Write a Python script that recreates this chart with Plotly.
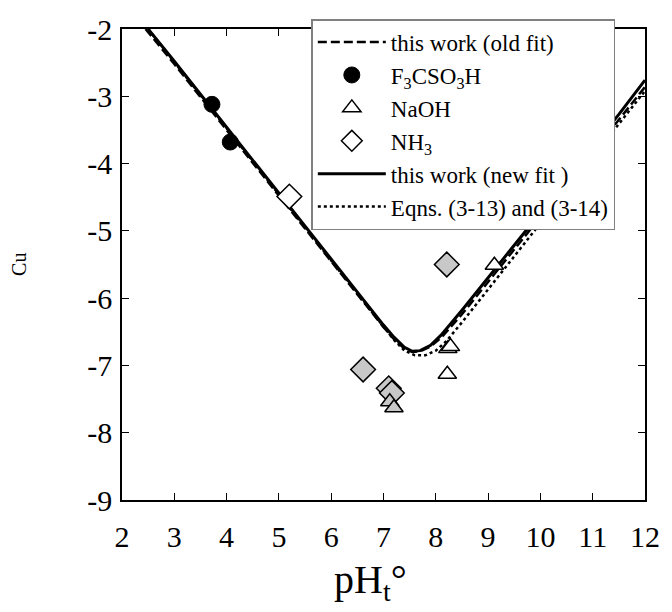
import plotly.graph_objects as go

# --- data ---
new_fit_x = [2.5, 3.0, 4.0, 5.0, 6.0, 6.6, 7.0, 7.2, 7.4, 7.55, 7.7, 7.9, 8.1, 8.5, 9.0, 9.5, 10.0, 10.5, 11.0, 11.5, 12.0]
new_fit_y = [-2.0, -2.48, -3.46, -4.44, -5.42, -6.01, -6.40, -6.58, -6.73, -6.79, -6.78, -6.70, -6.55, -6.18, -5.70, -5.21, -4.73, -4.24, -3.76, -3.27, -2.76]

old_fit_x = [2.45, 3.0, 4.0, 5.0, 6.0, 6.6, 7.0, 7.2, 7.4, 7.55, 7.7, 7.9, 8.1, 8.5, 9.0, 9.5, 10.0, 10.5, 11.0, 11.5, 12.0]
old_fit_y = [-2.0, -2.52, -3.50, -4.48, -5.46, -6.04, -6.43, -6.61, -6.75, -6.80, -6.79, -6.72, -6.59, -6.24, -5.76, -5.28, -4.80, -4.32, -3.83, -3.35, -2.86]

eqn_x = [2.5, 3.0, 4.0, 5.0, 6.0, 6.6, 7.0, 7.2, 7.4, 7.6, 7.8, 8.0, 8.2, 8.5, 9.0, 9.5, 10.0, 10.5, 11.0, 11.5, 12.0]
eqn_y = [-2.0, -2.49, -3.47, -4.45, -5.43, -6.02, -6.42, -6.62, -6.78, -6.85, -6.85, -6.78, -6.64, -6.36, -5.87, -5.38, -4.89, -4.40, -3.91, -3.41, -2.92]

f3cso3h_x = [3.72, 4.07]
f3cso3h_y = [-3.12, -3.68]

naoh_open_x = [8.23, 8.28, 8.22, 9.12]
naoh_open_y = [-6.75, -6.72, -7.13, -5.51]
naoh_gray_x = [7.12, 7.2]
naoh_gray_y = [-7.54, -7.63]

nh3_open_x = [5.2]
nh3_open_y = [-4.49]
nh3_gray_x = [6.61, 7.1, 7.16, 8.21]
nh3_gray_y = [-7.06, -7.34, -7.41, -5.50]

x_ticks = [2, 3, 4, 5, 6, 7, 8, 9, 10, 11, 12]
y_ticks = [-9, -8, -7, -6, -5, -4, -3, -2]

x_title = "pH<sub>t</sub>°"
y_title = "Cu"

FONT = "Liberation Serif"
GRAY = "#c8c8c8"

fig = go.Figure()

fig.add_trace(go.Scatter(x=old_fit_x, y=old_fit_y, mode="lines", name="this work (old fit)",
                         line=dict(color="black", width=2.5, dash="9px,4px"), legendrank=1))
fig.add_trace(go.Scatter(x=new_fit_x, y=new_fit_y, mode="lines", name="this work (new fit )",
                         line=dict(color="black", width=3), legendrank=5))
fig.add_trace(go.Scatter(x=eqn_x, y=eqn_y, mode="lines", name="Eqns. (3-13) and (3-14)",
                         line=dict(color="black", width=2.5, dash="dot"), legendrank=6))

fig.add_trace(go.Scatter(x=f3cso3h_x, y=f3cso3h_y, mode="markers", name="F<sub>3</sub>CSO<sub>3</sub>H",
                         marker=dict(symbol="circle", size=16, color="black",
                                     line=dict(color="black", width=1)), legendrank=2))
fig.add_trace(go.Scatter(x=nh3_gray_x, y=nh3_gray_y, mode="markers", showlegend=False,
                         marker=dict(symbol="diamond", size=19, color=GRAY,
                                     line=dict(color="black", width=1.5))))
fig.add_trace(go.Scatter(x=nh3_open_x, y=nh3_open_y, mode="markers", name="NH<sub>3</sub>",
                         marker=dict(symbol="diamond", size=19, color="white",
                                     line=dict(color="black", width=1.5)), legendrank=4))
fig.add_trace(go.Scatter(x=naoh_gray_x, y=naoh_gray_y, mode="markers", showlegend=False,
                         marker=dict(symbol="triangle-up", size=16, color=GRAY,
                                     line=dict(color="black", width=1.5))))
fig.add_trace(go.Scatter(x=naoh_open_x, y=naoh_open_y, mode="markers", name="NaOH",
                         marker=dict(symbol="triangle-up", size=16, color="white",
                                     line=dict(color="black", width=1.5)), legendrank=3))

axis_common = dict(showgrid=False, zeroline=False, showline=True, linecolor="black", linewidth=1.5,
                   mirror="ticks", ticks="inside", ticklen=7, tickcolor="black", tickwidth=1,
                   tickfont=dict(family=FONT, size=30, color="black"))

fig.update_layout(
    width=672, height=612,
    margin=dict(l=122, r=19, t=24, b=112),
    paper_bgcolor="white", plot_bgcolor="white",
    font=dict(family=FONT, color="black"),
    showlegend=True,
    legend=dict(x=0.362, y=1.021, xanchor="left", yanchor="top",
                bgcolor="white", bordercolor="#808080", borderwidth=1.5,
                font=dict(family=FONT, size=23, color="black"),
                tracegroupgap=0, itemwidth=68),
    xaxis=dict(range=[2, 12], tickvals=x_ticks, ticktext=[str(v) for v in x_ticks],
               ticklabelstandoff=9, **axis_common),
    yaxis=dict(range=[-9, -2], tickvals=y_ticks, ticktext=[str(v) for v in y_ticks],
               ticklabelstandoff=2, **axis_common),
    annotations=[
        dict(text=x_title, xref="paper", yref="paper", x=0.476, y=-0.174, xanchor="center", yanchor="middle",
             showarrow=False, font=dict(family=FONT, size=40, color="black")),
        dict(text=y_title, xref="paper", yref="paper", x=-0.198, y=0.5, xanchor="center", yanchor="middle",
             textangle=-90, showarrow=False, font=dict(family=FONT, size=20, color="black")),
    ],
)

fig.write_html("out.html")
